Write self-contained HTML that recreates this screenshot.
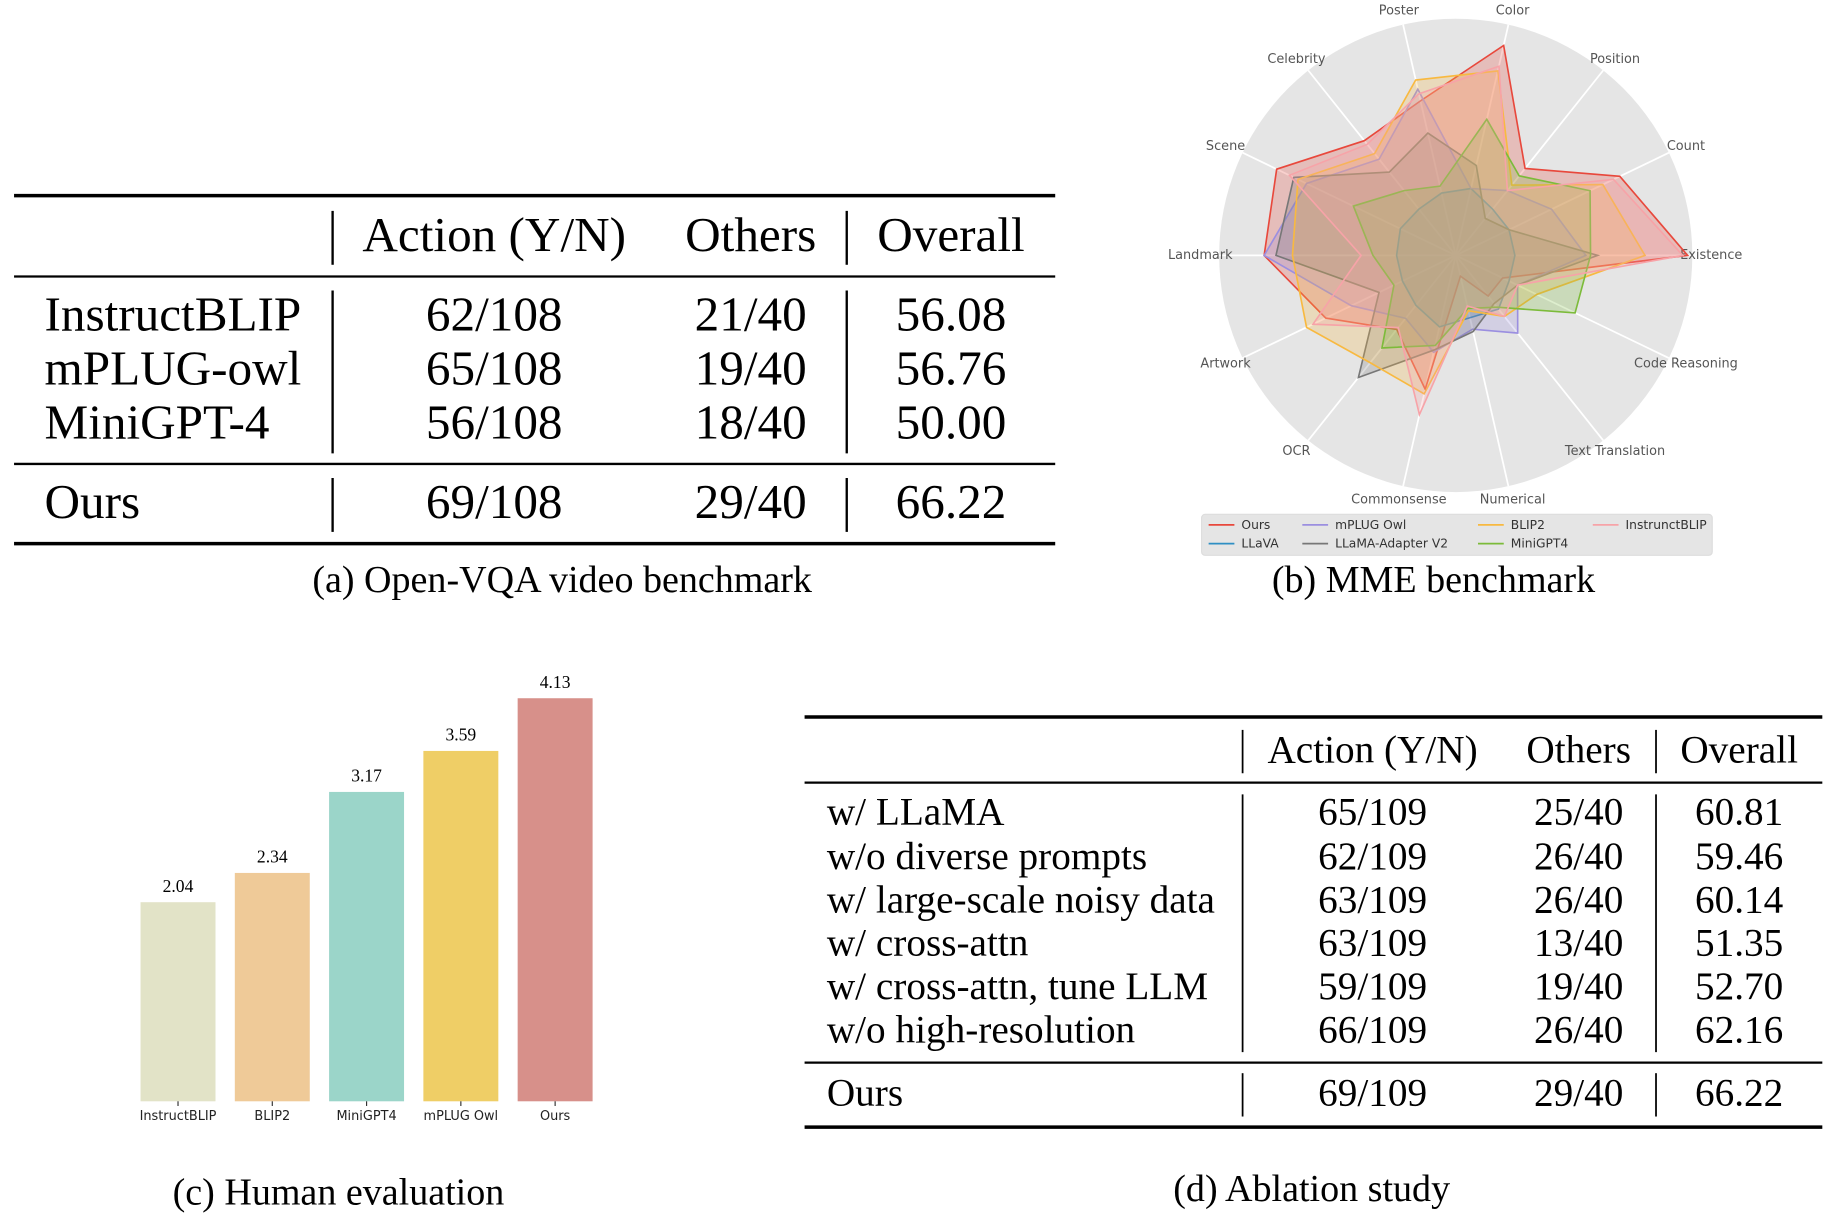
<!DOCTYPE html>
<html><head><meta charset="utf-8">
<style>
html,body{margin:0;padding:0;background:#fff;width:1827px;height:1229px;overflow:hidden}
svg{display:block}
.serif{font-family:"Liberation Serif",serif;fill:#000}
.sans{font-family:"DejaVu Sans","Liberation Sans",sans-serif}
</style></head>
<body>
<svg id="fig" width="1827" height="1229" viewBox="0 0 1560 1049" preserveAspectRatio="none" xmlns="http://www.w3.org/2000/svg">
  <!-- Table (a) -->
  <g class="serif">
    <line x1="12" y1="167" x2="901" y2="167" stroke="#000" stroke-width="3"/>
    <line x1="12" y1="236" x2="901" y2="236" stroke="#000" stroke-width="2"/>
    <line x1="12" y1="396" x2="901" y2="396" stroke="#000" stroke-width="2"/>
    <line x1="12" y1="464" x2="901" y2="464" stroke="#000" stroke-width="3"/>
    <line x1="284" y1="180" x2="284" y2="226" stroke="#000" stroke-width="2"/>
    <line x1="723" y1="180" x2="723" y2="226" stroke="#000" stroke-width="2"/>
    <line x1="284" y1="248" x2="284" y2="387" stroke="#000" stroke-width="2"/>
    <line x1="723" y1="248" x2="723" y2="387" stroke="#000" stroke-width="2"/>
    <line x1="284" y1="408" x2="284" y2="454" stroke="#000" stroke-width="2"/>
    <line x1="723" y1="408" x2="723" y2="454" stroke="#000" stroke-width="2"/>
    <g font-size="42" text-anchor="middle" dominant-baseline="central">
      <text x="422" y="200">Action (Y/N)</text>
      <text x="641" y="200">Others</text>
      <text x="812" y="200">Overall</text>
      <text x="38" y="268" text-anchor="start">InstructBLIP</text><text x="422" y="268">62/108</text><text x="641" y="268">21/40</text><text x="812" y="268">56.08</text>
      <text x="38" y="314" text-anchor="start">mPLUG-owl</text><text x="422" y="314">65/108</text><text x="641" y="314">19/40</text><text x="812" y="314">56.76</text>
      <text x="38" y="360" text-anchor="start">MiniGPT-4</text><text x="422" y="360">56/108</text><text x="641" y="360">18/40</text><text x="812" y="360">50.00</text>
      <text x="38" y="428" text-anchor="start">Ours</text><text x="422" y="428">69/108</text><text x="641" y="428">29/40</text><text x="812" y="428">66.22</text>
    </g>
    <text x="480" y="495" font-size="32.5" text-anchor="middle" dominant-baseline="central">(a) Open-VQA video benchmark</text>
  </g>

  <!-- Radar (b) -->
  <g id="radar"></g>
  <text x="1224" y="495" font-size="32.5" class="serif" text-anchor="middle" dominant-baseline="central">(b) MME benchmark</text>

  <!-- Bar (c) -->
  <g id="bars"></g>
  <text x="289" y="1018" font-size="32.5" class="serif" text-anchor="middle" dominant-baseline="central">(c) Human evaluation</text>

  <!-- Table (d) -->
  <g class="serif">
    <line x1="687" y1="612" x2="1556" y2="612" stroke="#000" stroke-width="3"/>
    <line x1="687" y1="668" x2="1556" y2="668" stroke="#000" stroke-width="2"/>
    <line x1="687" y1="907" x2="1556" y2="907" stroke="#000" stroke-width="2"/>
    <line x1="687" y1="962" x2="1556" y2="962" stroke="#000" stroke-width="3"/>
    <line x1="1061" y1="623" x2="1061" y2="660" stroke="#000" stroke-width="1.5"/>
    <line x1="1414" y1="623" x2="1414" y2="660" stroke="#000" stroke-width="1.5"/>
    <line x1="1061" y1="678" x2="1061" y2="898" stroke="#000" stroke-width="1.5"/>
    <line x1="1414" y1="678" x2="1414" y2="898" stroke="#000" stroke-width="1.5"/>
    <line x1="1061" y1="916" x2="1061" y2="953" stroke="#000" stroke-width="1.5"/>
    <line x1="1414" y1="916" x2="1414" y2="953" stroke="#000" stroke-width="1.5"/>
    <g font-size="33.5" text-anchor="middle" dominant-baseline="central">
      <text x="1172" y="640">Action (Y/N)</text><text x="1348" y="640">Others</text><text x="1485" y="640">Overall</text>
      <text x="706" y="693" text-anchor="start">w/ LLaMA</text><text x="1172" y="693">65/109</text><text x="1348" y="693">25/40</text><text x="1485" y="693">60.81</text>
      <text x="706" y="731" text-anchor="start">w/o diverse prompts</text><text x="1172" y="731">62/109</text><text x="1348" y="731">26/40</text><text x="1485" y="731">59.46</text>
      <text x="706" y="768" text-anchor="start">w/ large-scale noisy data</text><text x="1172" y="768">63/109</text><text x="1348" y="768">26/40</text><text x="1485" y="768">60.14</text>
      <text x="706" y="805" text-anchor="start">w/ cross-attn</text><text x="1172" y="805">63/109</text><text x="1348" y="805">13/40</text><text x="1485" y="805">51.35</text>
      <text x="706" y="842" text-anchor="start">w/ cross-attn, tune LLM</text><text x="1172" y="842">59/109</text><text x="1348" y="842">19/40</text><text x="1485" y="842">52.70</text>
      <text x="706" y="879" text-anchor="start">w/o high-resolution</text><text x="1172" y="879">66/109</text><text x="1348" y="879">26/40</text><text x="1485" y="879">62.16</text>
      <text x="706" y="933" text-anchor="start">Ours</text><text x="1172" y="933">69/109</text><text x="1348" y="933">29/40</text><text x="1485" y="933">66.22</text>
    </g>
    <text x="1120" y="1015" font-size="32.5" text-anchor="middle" dominant-baseline="central">(d) Ablation study</text>
  </g>
</svg>
<script>
// ---------- Radar data ----------
const radarAxes = ["Existence","Count","Position","Color","Poster","Celebrity","Scene","Landmark","Artwork","OCR","Commonsense","Numerical","Text Translation","Code Reasoning"];
const radarModels = ["Ours","LLaVA","mPLUG Owl","LLaMA-Adapter V2","BLIP2","MiniGPT4","InstrunctBLIP"];
const ours        = [0.98,0.77,0.47,0.91,0.67,0.62,0.84,0.81,0.61,0.40,0.58,0.09,0.22,0.22];
const llava       = [0.25,0.25,0.25,0.29,0.27,0.25,0.26,0.25,0.25,0.27,0.31,0.27,0.29,0.25];
const mplugOwl    = [0.55,0.45,0.35,0.29,0.72,0.52,0.70,0.81,0.49,0.34,0.42,0.32,0.42,0.29];
const llamaAdapter= [0.60,0.25,0.20,0.39,0.53,0.45,0.76,0.76,0.36,0.66,0.41,0.33,0.26,0.29];
const blip2       = [0.80,0.69,0.38,0.80,0.76,0.55,0.74,0.69,0.70,0.58,0.60,0.24,0.33,0.38];
const minigpt4    = [0.57,0.63,0.43,0.59,0.30,0.35,0.48,0.35,0.29,0.50,0.39,0.23,0.28,0.56];
const instructblip= [0.96,0.74,0.35,0.82,0.70,0.60,0.78,0.40,0.67,0.39,0.69,0.22,0.33,0.29];
const radarSeries = [ours,llava,mplugOwl,llamaAdapter,blip2,minigpt4,instructblip];
const radarColors = ["#e8483c","#2f8fc4","#9b8fe0","#777777","#f8b940","#7cbb3a","#f7a3a8"];

// ---------- Bar data ----------
const barCategories = ["InstructBLIP","BLIP2","MiniGPT4","mPLUG Owl","Ours"];
const barValues = [2.04,2.34,3.17,3.59,4.13];
const barLabels = ["2.04","2.34","3.17","3.59","4.13"];
const barColors = ["#e2e3c7","#efca98","#9bd5c9","#efce66","#d7908a"];

const NS = "http://www.w3.org/2000/svg";
function mk(tag, attrs, parent){
  const e = document.createElementNS(NS, tag);
  for (const k in attrs) e.setAttribute(k, attrs[k]);
  if (parent) parent.appendChild(e);
  return e;
}

// ----- radar -----
(function(){
  const g = document.getElementById('radar');
  const cx = 1243, cy = 218, R = 202;
  const n = radarAxes.length;
  const ang = i => i * 2 * Math.PI / n;
  const px = (i, v) => cx + Math.cos(ang(i)) * v * R;
  const py = (i, v) => cy - Math.sin(ang(i)) * v * R;
  const bg = mk('circle', {cx:cx, cy:cy, r:R, fill:'#e5e5e5'}, g);
  
  
  for (let i = 0; i < n; i++) {
    const l = mk('line', {x1:cx, y1:cy, x2:px(i,1), y2:py(i,1), stroke:'#fff', 'stroke-width':1.5}, g);
    
    
    const t = mk('text', {x:px(i,1.08), y:py(i,1.06), 'font-size':11, fill:'#555', 'text-anchor':'middle', 'dominant-baseline':'central', class:'sans'}, g);
    t.textContent = radarAxes[i];
    
    
  }
  radarSeries.forEach((s, k) => {
    const pts = s.map((v, i) => px(i, v).toFixed(1) + ',' + py(i, v).toFixed(1)).join(' ');
    const p = mk('polygon', {points:pts, fill:radarColors[k], 'fill-opacity':0.25, stroke:radarColors[k], 'stroke-width':1.4}, g);
    
    
  });
  const lg = mk('g', {}, g);
  
  
  mk('rect', {x:1026, y:439, width:436, height:35, rx:3, fill:'#e5e5e5', stroke:'#ddd'}, lg);
  const colX = [1032, 1112, 1262, 1360];
  const order = [[0,0,0],[1,0,1],[2,1,0],[3,1,1],[4,2,0],[5,2,1],[6,3,0]];
  order.forEach(([k, c, r]) => {
    const y = 448 + r * 16;
    mk('line', {x1:colX[c], y1:y, x2:colX[c]+22, y2:y, stroke:radarColors[k], 'stroke-width':1.5}, lg);
    const t = mk('text', {x:colX[c]+28, y:y, 'font-size':10.5, fill:'#333', 'dominant-baseline':'central', class:'sans'}, lg);
    t.textContent = radarModels[k];
    
    
  });
})();

// ----- bars -----
(function(){
  const g = document.getElementById('bars');
  const base = 940, pxPerUnit = 83.3, x0 = 120, step = 80.5, w = 64;
  const xPos = i => x0 + i * step;
  const yPos = v => base - v * pxPerUnit;
  barValues.forEach((v, i) => {
    const r = mk('rect', {x:xPos(i), y:yPos(v), width:w, height:base - yPos(v), fill:barColors[i]}, g);
    
    
    const t = mk('text', {x:xPos(i)+w/2, y:yPos(v)-14, 'font-size':15, 'text-anchor':'middle', 'dominant-baseline':'central', class:'serif'}, g);
    t.textContent = barLabels[i];
    
    
    mk('line', {x1:xPos(i)+w/2, y1:base, x2:xPos(i)+w/2, y2:base+4, stroke:'#333', 'stroke-width':1}, g);
    const c = mk('text', {x:xPos(i)+w/2, y:base+13, 'font-size':11, fill:'#222', 'text-anchor':'middle', 'dominant-baseline':'central', class:'sans'}, g);
    c.textContent = barCategories[i];
    
    
  });
})();
</script>
</body></html>
